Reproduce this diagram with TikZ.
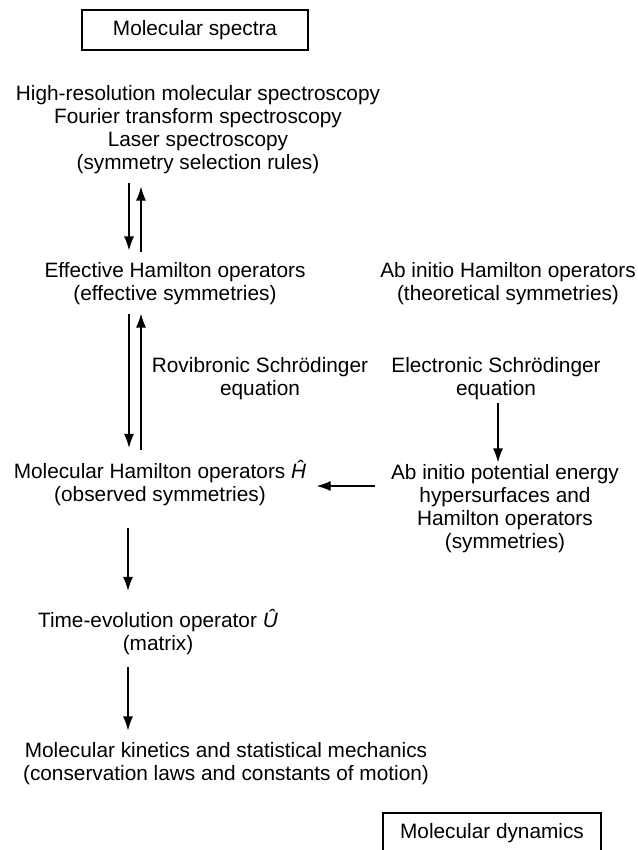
\documentclass[tikz,border=0pt]{standalone}
\usepackage{fontspec}
\setmainfont{Liberation Sans}
\usetikzlibrary{arrows.meta}

\tikzset{
	label/.style = {align=center, font=\fontsize{10.4}{11.5}\selectfont, inner sep=1pt},
	framed/.style = {label, draw, line width=0.6pt, minimum width=113pt, minimum height=20pt},
	arr/.style = {-{Latex[length=7pt,width=5pt]}, line width=0.6pt}
}

\begin{document}
\begin{tikzpicture}[x=0.5pt, y=-0.5pt]
	\useasboundingbox (0,0) rectangle (637,850);

	% left column
	\node[framed] (spectra) at (195,30) {Molecular spectra};
	\node[label] (hires) at (198,130) {High-resolution molecular spectroscopy\\Fourier transform spectroscopy\\Laser spectroscopy\\(symmetry selection rules)};
	\node[label] (effham) at (175,284) {Effective Hamilton operators\\(effective symmetries)};
	\node[label] (rovib) at (260,379) {Rovibronic Schr\"odinger\\equation};
	\node[label] (molham) at (160,483) {Molecular Hamilton operators \textit{\^{H}}\\(observed symmetries)};
	\node[label] (timeev) at (158,632) {Time-evolution operator \textit{\^{U}}\\(matrix)};
	\node[label] (kinetics) at (226,764) {Molecular kinetics and statistical mechanics\\(conservation laws and constants of motion)};

	% right column
	\node[label] (abham) at (508,284) {Ab initio Hamilton operators\\(theoretical symmetries)};
	\node[label] (elec) at (496,379) {Electronic Schr\"odinger\\equation};
	\node[label] (surf) at (505,509) {Ab initio potential energy\\hypersurfaces and\\Hamilton operators\\(symmetries)};
	\node[framed, minimum width=109pt] (dynamics) at (492,833) {Molecular dynamics};

	% connectors
	\draw[arr] ([yshift=-3pt]hires.south -| 129,0) -- ([yshift=5pt]effham.north -| 129,0);
	\draw[arr] ([yshift=4pt]effham.north -| 141,0) -- ([yshift=-5pt]hires.south -| 141,0);
	\draw[arr] ([yshift=-3pt]effham.south -| 129,0) -- ([yshift=5pt]molham.north -| 129,0);
	\draw[arr] ([yshift=4pt]molham.north -| 141,0) -- ([yshift=-3pt]effham.south -| 141,0);
	\draw[arr] ([yshift=-10pt]molham.south -| 128,0) -- ([yshift=8pt]timeev.north -| 128,0);
	\draw[arr] ([yshift=-5pt]timeev.south -| 128,0) -- ([yshift=5pt]kinetics.north -| 128,0);
	\draw[arr] (elec.south -| 498,0) -- (surf.north -| 498,0);
	\draw[arr] ([xshift=-7pt]surf.west |- 0,486) -- ([xshift=4pt]molham.east |- 0,486);
\end{tikzpicture}
\end{document}
